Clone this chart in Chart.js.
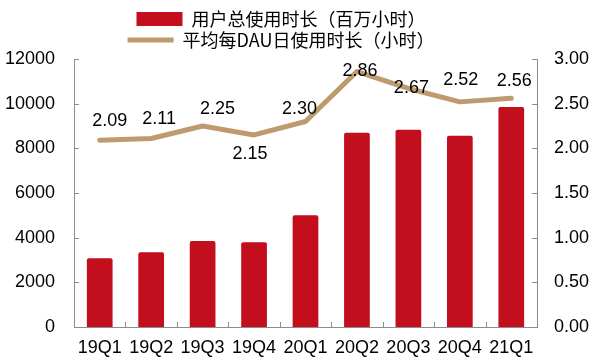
<!DOCTYPE html>
<html>
<head>
<meta charset="utf-8">
<script src="https://cdn.jsdelivr.net/npm/chart.js@4"></script>
<style>
  html,body{margin:0;padding:0;background:#fff;}
  #wrap{width:600px;height:364px;}
</style>
</head>
<body>
<div id="wrap"><canvas id="myChart" width="600" height="364"></canvas></div>
<script>
// datos
const trimestres = ['19Q1','19Q2','19Q3','19Q4','20Q1','20Q2','20Q3','20Q4','21Q1'];
const horasTotales = [3080, 3350, 3850, 3800, 5000, 8700, 8830, 8560, 9850];   // 百万小时
const horasDAU = [2.09, 2.11, 2.25, 2.15, 2.30, 2.86, 2.67, 2.52, 2.56];       // 小时
const ticksIzq = [0, 2000, 4000, 6000, 8000, 10000, 12000];
const ticksDer = [0, 0.5, 1, 1.5, 2, 2.5, 3];

// desplazamiento de cada etiqueta respecto al punto (px)
const posEtiquetas = [[10,-19],[8,-19],[15,-17],[-4,19],[-6,-13],[3,0],[3,0],[1,-22],[3,-17]];

const fuente = "'Liberation Sans', Arial, sans-serif";
const gris = '#8c8c8c';

// ticks cortos hacia dentro
const marcasInternas = {
    id: 'marcasInternas',
    afterDraw(chart){
        const ctx = chart.ctx;
        const {x, y, y1} = chart.scales;
        const area = chart.chartArea;
        ctx.save();
        ctx.strokeStyle = gris;
        ctx.lineWidth = 1;
        ctx.beginPath();
        ticksIzq.forEach(v=>{
            const py = Math.round(y.getPixelForValue(v)) + 0.5;
            ctx.moveTo(area.left, py); ctx.lineTo(area.left + 5, py);
        });
        ticksDer.forEach(v=>{
            const py = Math.round(y1.getPixelForValue(v)) + 0.5;
            ctx.moveTo(area.right, py); ctx.lineTo(area.right - 5, py);
        });
        for(let i=1;i<trimestres.length;i++){
            const px = Math.round((x.getPixelForValue(i-1) + x.getPixelForValue(i)) / 2) + 0.5;
            ctx.moveTo(px, area.bottom); ctx.lineTo(px, area.bottom - 5);
        }
        ctx.stroke();
        ctx.restore();
    }
};

// etiquetas de la linea
const etiquetasLinea = {
    id: 'etiquetasLinea',
    afterDatasetsDraw(chart){
        const ctx = chart.ctx;
        const meta = chart.getDatasetMeta(1);
        ctx.save();
        ctx.font = '18px ' + fuente;
        ctx.fillStyle = '#000';
        ctx.textAlign = 'center';
        ctx.textBaseline = 'middle';
        meta.data.forEach((p, i)=>{
            const [dx, dy] = posEtiquetas[i];
            ctx.fillText(horasDAU[i].toFixed(2), p.x + dx, p.y + dy);
        });
        ctx.restore();
    }
};

// la leyenda del original esta algo a la izquierda del centro
const moverLeyenda = {
    id: 'moverLeyenda',
    afterLayout(chart){
        if(chart.legend){
            chart.legend.left -= 19;
            chart.legend.right -= 19;
        }
    }
};

const ctx = document.getElementById('myChart');
const myChart = new Chart(ctx, {
    data: {
        labels: trimestres,
        datasets: [{
            type: 'bar',
            label: '用户总使用时长（百万小时）',
            data: horasTotales,
            backgroundColor: '#c30e1e',
            borderRadius: 2,
            borderSkipped: 'bottom',
            barPercentage: 0.5,
            categoryPercentage: 1,
            pointStyle: 'rect',
            yAxisID: 'y',
            order: 2
        },{
            type: 'line',
            label: '平均每DAU日使用时长（小时）',
            data: horasDAU,
            borderColor: '#be9a70',
            backgroundColor: '#be9a70',
            borderWidth: 5,
            borderCapStyle: 'round',
            borderJoinStyle: 'round',
            pointRadius: 0,
            pointHoverRadius: 0,
            pointStyle: 'line',
            tension: 0,
            fill: false,
            yAxisID: 'y1',
            order: 1
        }]
    },
    options: {
        responsive: false,
        animation: false,
        events: [],
        layout: { padding: { top: 7, left: 0, right: 0, bottom: 0 } },
        plugins: {
            tooltip: { enabled: false },
            legend: {
                position: 'top',
                align: 'center',
                maxWidth: 400,
                labels: {
                    usePointStyle: true,
                    pointStyleWidth: 46,
                    boxHeight: 14,
                    padding: 3,
                    color: '#000',
                    sort: (a, b) => a.datasetIndex - b.datasetIndex,
                    font: { family: "'Noto Sans CJK SC', sans-serif", size: 18 }
                }
            }
        },
        scales: {
            x: {
                grid: { display: false, drawTicks: false },
                border: { display: true, color: gris, width: 1 },
                ticks: { color: '#000', padding: 10, font: { family: fuente, size: 18 }, maxRotation: 0 },
                afterFit: s => { s.height = 37; }
            },
            y: {
                position: 'left',
                min: 0, max: 12000,
                afterBuildTicks: s => { s.ticks = ticksIzq.map(v=>({value: v})); },
                grid: { display: false, drawTicks: false },
                border: { display: true, color: gris, width: 1 },
                ticks: { color: '#000', padding: 19, font: { family: fuente, size: 18 },
                         callback: v => String(v) },
                afterFit: s => { s.width = 74; }
            },
            y1: {
                position: 'right',
                min: 0, max: 3,
                afterBuildTicks: s => { s.ticks = ticksDer.map(v=>({value: v})); },
                grid: { display: false, drawTicks: false },
                border: { display: true, color: gris, width: 1 },
                ticks: { color: '#000', padding: 17, font: { family: fuente, size: 18 },
                         callback: v => Number(v).toFixed(2) },
                afterFit: s => { s.width = 63; }
            }
        }
    },
    plugins: [moverLeyenda, marcasInternas, etiquetasLinea]
});
</script>
</body>
</html>
